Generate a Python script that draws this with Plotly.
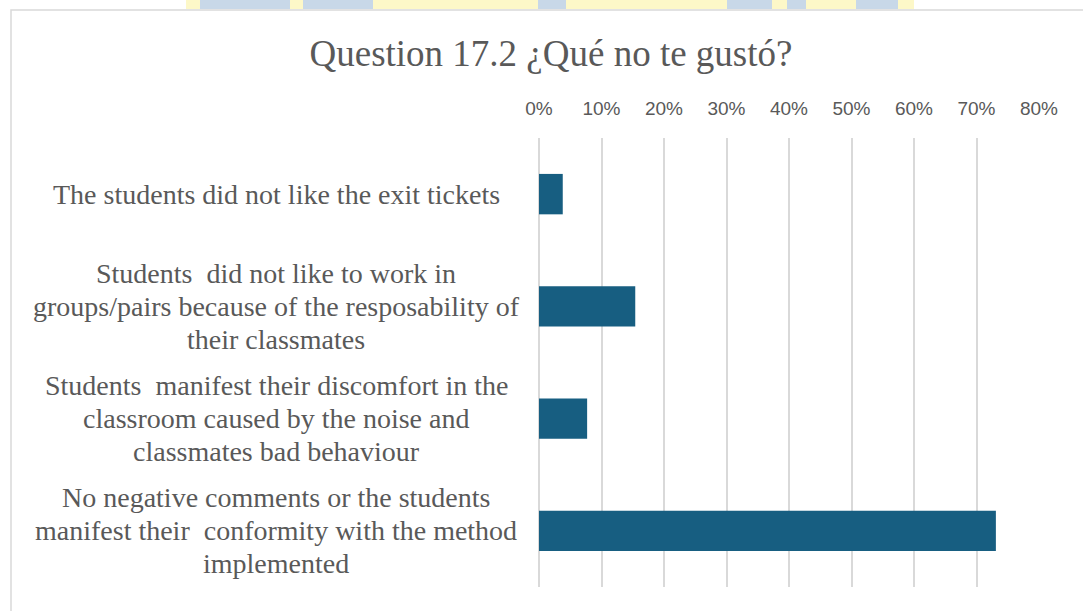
import plotly.graph_objects as go

# ---- data ----
categories = [
    "The students did not like the exit tickets",
    "Students  did not like to work in<br>groups/pairs because of the resposability of<br>their classmates",
    "Students  manifest their discomfort in the<br>classroom caused by the noise and<br>classmates bad behaviour",
    "No negative comments or the students<br>manifest their  conformity with the method<br>implemented",
]
values = [0.038, 0.154, 0.077, 0.731]
tick_values = [0, 0.1, 0.2, 0.3, 0.4, 0.5, 0.6, 0.7, 0.8]
title_text = "Question 17.2 ¿Qué no te gustó?"

# ---- layout geometry ----
W, H = 1083, 611
L, R, T, B = 539, 44, 138, 24
PW, PH = W - L - R, H - T - B


def px2x(px):
    return (px - L) / PW


def px2y(py):
    return (H - B - py) / PH


TEXT = "#595959"
BAR = "#175E81"
GRID = "#d9d9d9"

fig = go.Figure()
fig.add_trace(go.Bar(
    x=values, y=categories, orientation="h",
    marker=dict(color=BAR, line=dict(width=0)),
    hoverinfo="skip",
))

annotations = []
label_center_px = 276
line_h = 33
for cat in categories:
    lines = cat.split("<br>")
    n = len(lines)
    for i, ln in enumerate(lines):
        annotations.append(dict(
            x=px2x(label_center_px), xref="paper", xanchor="center",
            y=cat, yref="y", yanchor="middle",
            yshift=((n - 1) / 2 - i) * line_h,
            text=ln, showarrow=False,
            font=dict(family="Liberation Serif", size=28, color=TEXT),
        ))

shapes = []
# faint watermark band at very top
shapes.append(dict(type="rect", xref="paper", yref="paper", layer="below",
                   x0=px2x(186), x1=px2x(914), y0=px2y(9), y1=px2y(0),
                   fillcolor="#fdf8c8", line=dict(width=0)))
for a, b in [(200, 290), (303, 373), (538, 566), (727, 772), (787, 806), (856, 898)]:
    shapes.append(dict(type="rect", xref="paper", yref="paper", layer="below",
                       x0=px2x(a), x1=px2x(b), y0=px2y(9), y1=px2y(0),
                       fillcolor="#c8d8e8", line=dict(width=0)))
# chart border
shapes.append(dict(type="rect", xref="paper", yref="paper", layer="below",
                   x0=px2x(11), x1=px2x(1100), y0=px2y(640), y1=px2y(10),
                   fillcolor="rgba(0,0,0,0)", line=dict(color=GRID, width=1.5)))

fig.update_layout(
    width=W, height=H,
    margin=dict(l=L, r=R, t=T, b=B),
    paper_bgcolor="white", plot_bgcolor="white",
    bargap=0.64,
    showlegend=False,
    title=dict(text=title_text, x=551 / W, xref="container", xanchor="center",
               y=1 - 53 / H, yref="container", yanchor="middle",
               font=dict(family="Liberation Serif", size=37, color=TEXT)),
    xaxis=dict(range=[0, 0.8], side="top", tickvals=tick_values, tickformat=".0%",
               showgrid=True, gridcolor=GRID, gridwidth=1.5,
               zeroline=True, zerolinecolor=GRID, zerolinewidth=1.5,
               showline=False, ticks="", ticklabelstandoff=18,
               tickfont=dict(family="Liberation Sans", size=19, color=TEXT)),
    yaxis=dict(categoryorder="array", categoryarray=categories, autorange="reversed",
               showticklabels=False, showgrid=False, zeroline=False, showline=False,
               ticks=""),
    annotations=annotations,
    shapes=shapes,
)

fig.write_html("out.html")
